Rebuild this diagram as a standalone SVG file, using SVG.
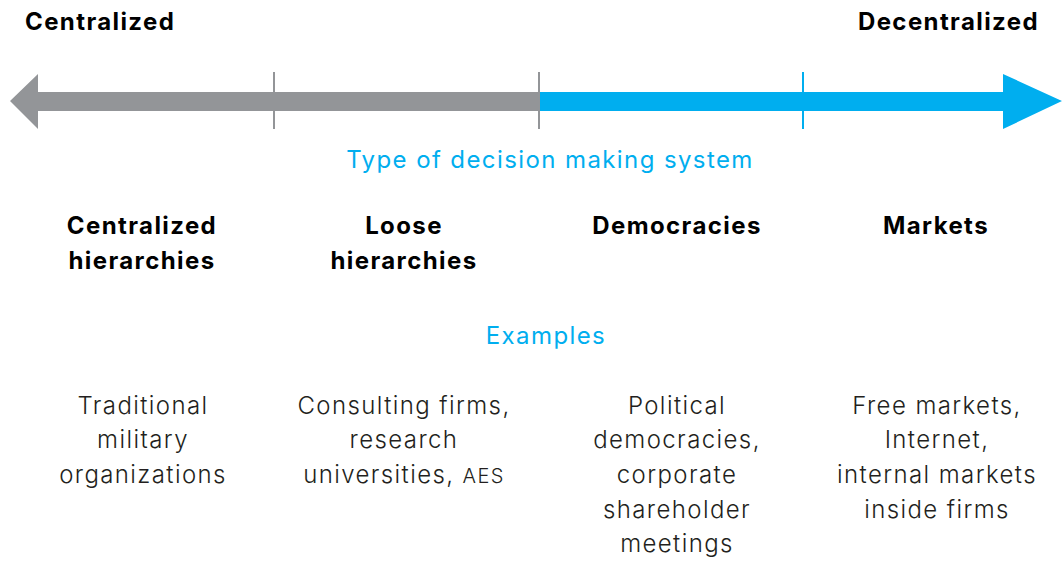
<svg xmlns="http://www.w3.org/2000/svg" width="1062" height="561" viewBox="0 0 1062 561">
<style>
text{letter-spacing:1.4px}
.h{font-family:Inter,"Open Sans","Liberation Sans",sans-serif;font-weight:700;font-size:24px;fill:#000}
.b{font-family:Inter,"Open Sans","Liberation Sans",sans-serif;font-weight:300;font-size:24px;fill:#231f20}
.bl{font-family:Inter,"Open Sans","Liberation Sans",sans-serif;font-weight:400;font-size:24px;fill:#00aeef}
</style>
<rect width="1062" height="561" fill="#fff"/>
<g id="axis">
<polygon points="10,101 38,74 38,92 540,92 540,111 38,111 38,129" fill="#939598"/>
<polygon points="538,92 1003,92 1003,74 1062,101 1003,129 1003,111 538,111" fill="#00aeef"/>
<line x1="274" y1="72" x2="274" y2="129" stroke="#939598" stroke-width="2"/>
<line x1="539" y1="72" x2="539" y2="129" stroke="#939598" stroke-width="2"/>
<line x1="803" y1="72" x2="803" y2="129" stroke="#00aeef" stroke-width="2"/>
</g>
<text class="h" x="25" y="30">Centralized</text>
<text class="h" x="1039" y="30" text-anchor="end">Decentralized</text>
<text class="bl" x="550" y="168" text-anchor="middle">Type of decision making system</text>
<g id="col1" text-anchor="middle">
<text class="h" x="142" y="234">Centralized</text>
<text class="h" x="142" y="269">hierarchies</text>
<text class="b" x="143" y="414">Traditional</text>
<text class="b" x="143" y="448">military</text>
<text class="b" x="143" y="483">organizations</text>
</g>
<g id="col2" text-anchor="middle">
<text class="h" x="404" y="234">Loose</text>
<text class="h" x="404" y="269">hierarchies</text>
<text class="b" x="404" y="414">Consulting firms,</text>
<text class="b" x="404" y="448">research</text>
<text class="b" x="404" y="483">universities, <tspan font-size="20">AES</tspan></text>
</g>
<g id="col3" text-anchor="middle">
<text class="h" x="677" y="234">Democracies</text>
<text class="b" x="677" y="414">Political</text>
<text class="b" x="677" y="448">democracies,</text>
<text class="b" x="677" y="483">corporate</text>
<text class="b" x="677" y="518">shareholder</text>
<text class="b" x="677" y="552">meetings</text>
</g>
<g id="col4" text-anchor="middle">
<text class="h" x="936" y="234">Markets</text>
<text class="b" x="937" y="414">Free markets,</text>
<text class="b" x="937" y="448">Internet,</text>
<text class="b" x="937" y="483">internal markets</text>
<text class="b" x="937" y="518">inside firms</text>
</g>
<text class="bl" x="546" y="344" text-anchor="middle">Examples</text>
</svg>
